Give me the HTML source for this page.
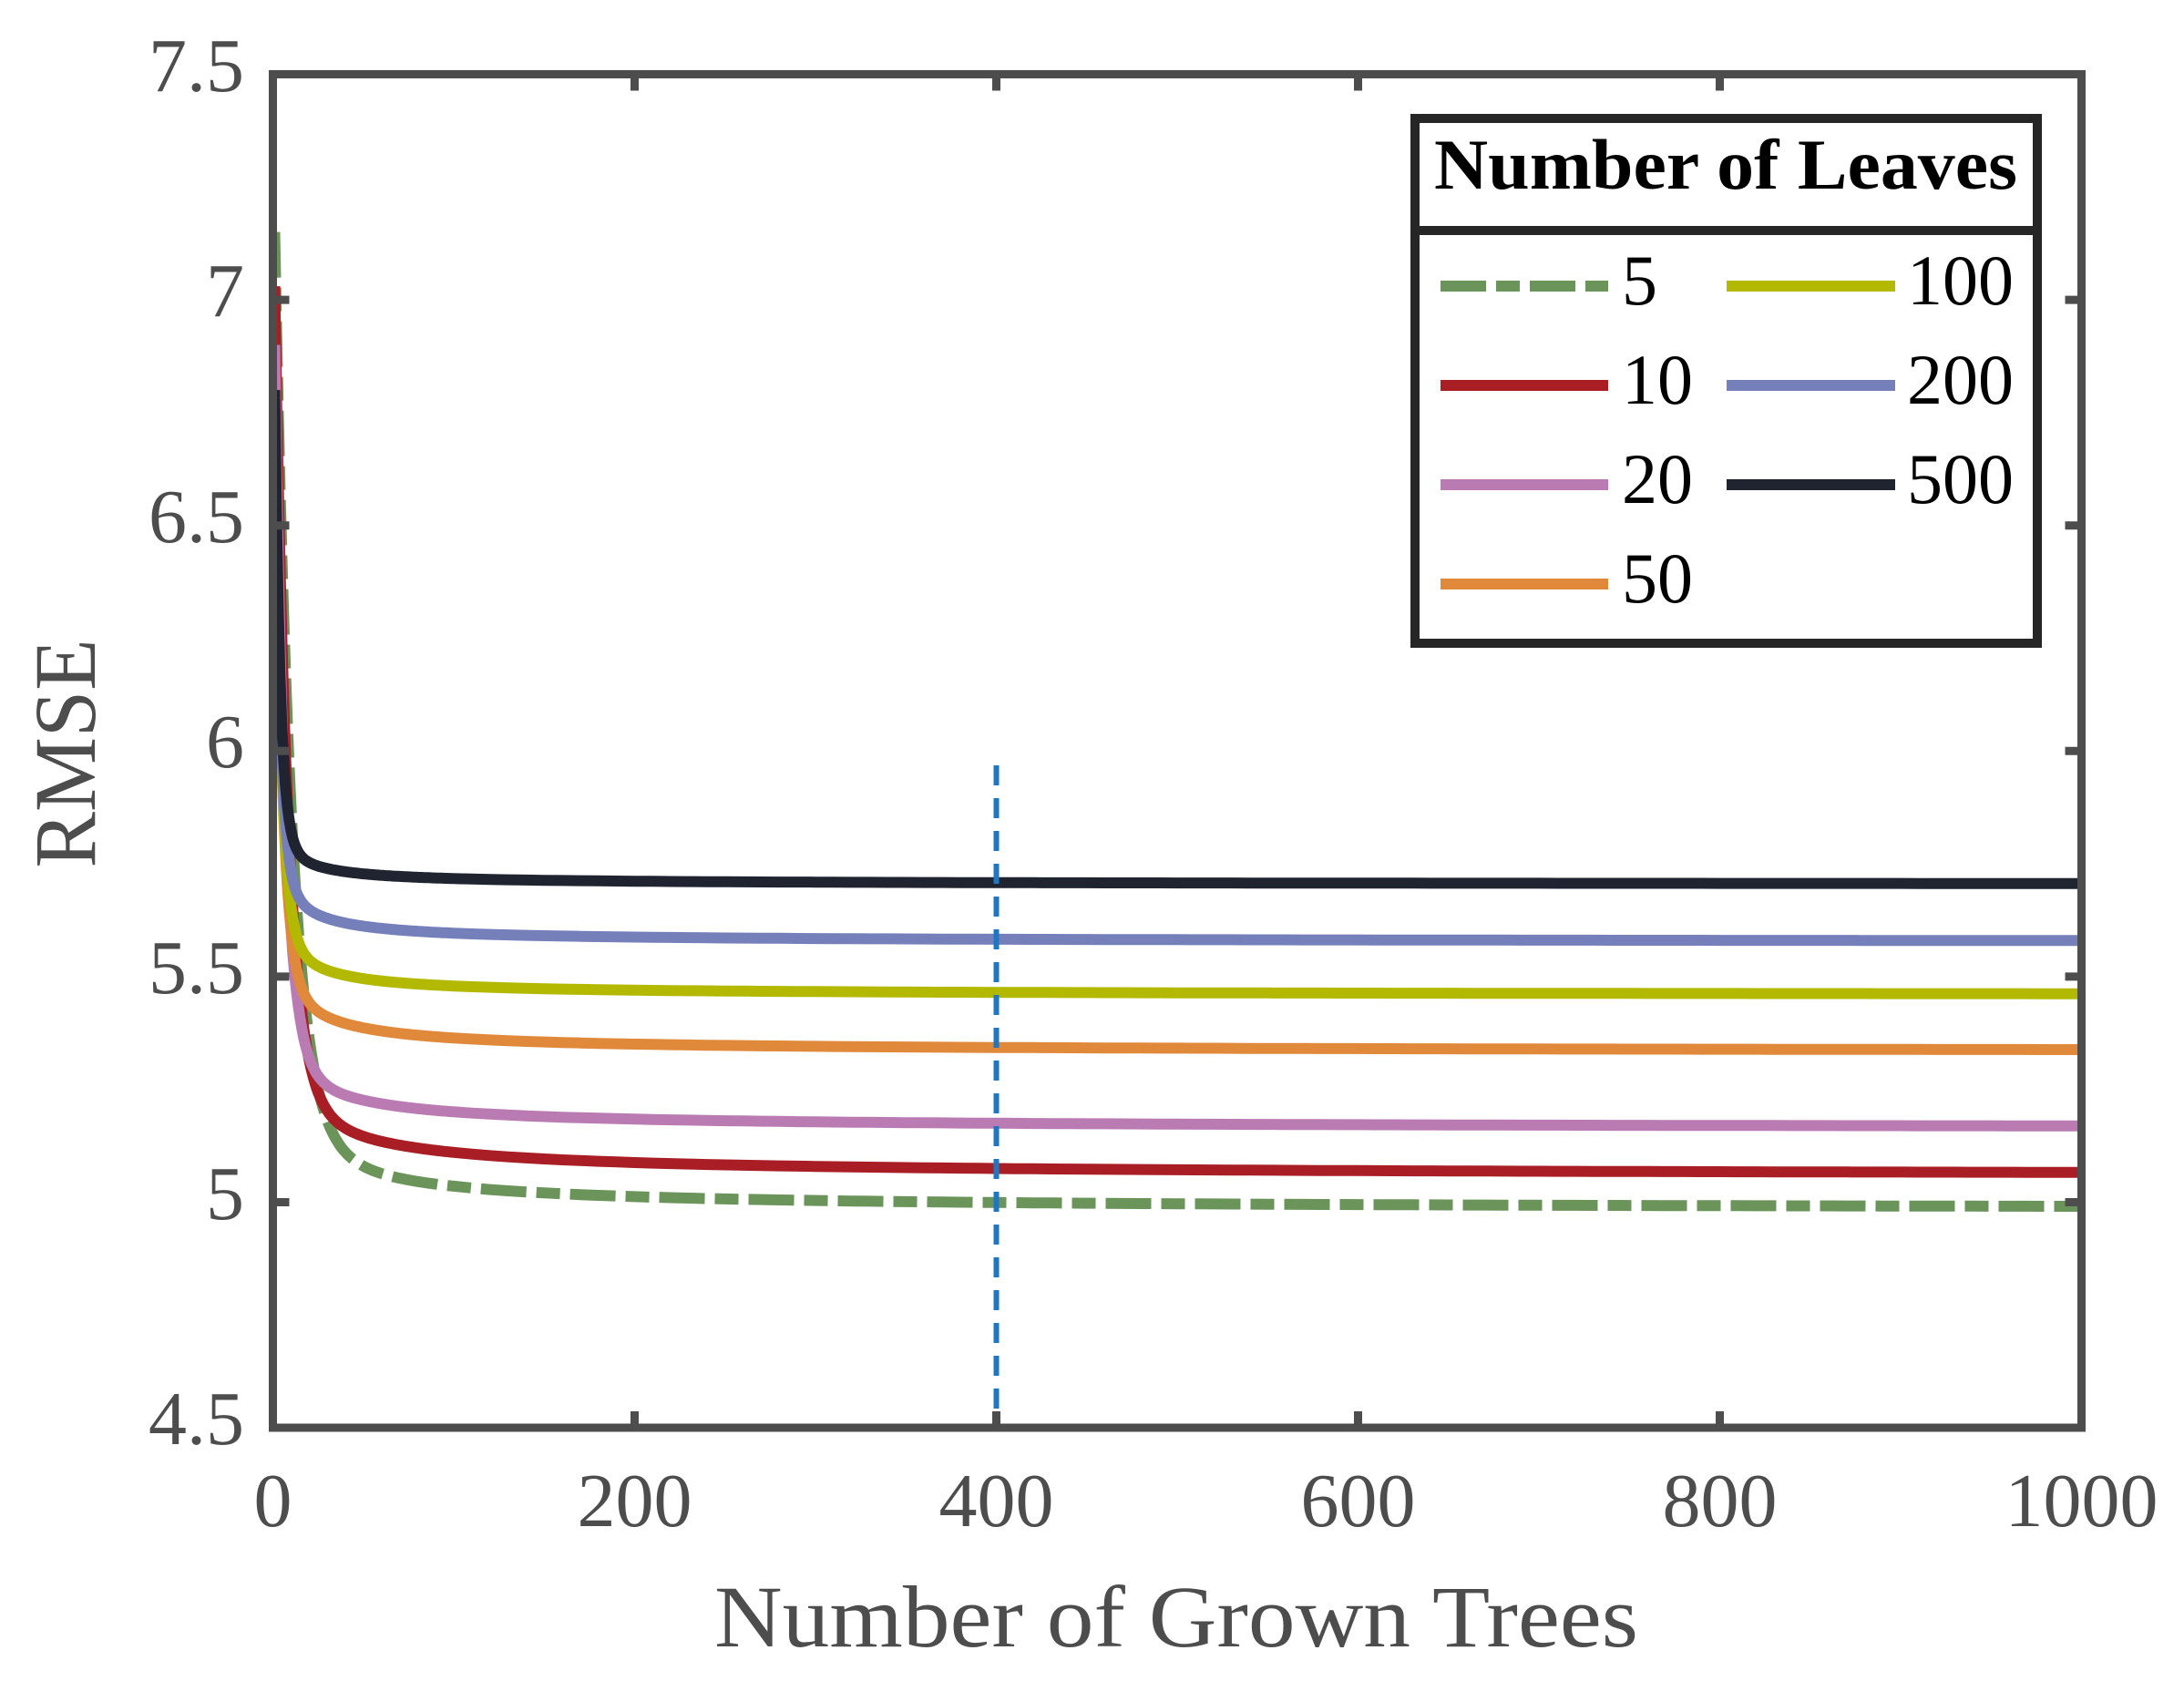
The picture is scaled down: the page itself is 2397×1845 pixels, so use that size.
<!DOCTYPE html>
<html><head><meta charset="utf-8"><style>
html,body{margin:0;padding:0;background:#fff;}
svg{display:block;}
</style></head><body>
<svg id="s" width="2397" height="1845" viewBox="0 0 2397 1845" xmlns="http://www.w3.org/2000/svg">
<rect width="2397" height="1845" fill="#fff"/>
<g id="curves" fill="none" stroke-width="12" stroke-linejoin="round"></g>
<line x1="1093.5" y1="840" x2="1093.5" y2="1567" stroke="#1f77c4" stroke-width="6" stroke-dasharray="22,14"/>
<g stroke="#4d4d4d" stroke-width="9" fill="none">
<rect x="299.5" y="81.5" width="1985" height="1485.5"/>
<path id="ticks" d=""/>
</g>
<g font-family="Liberation Serif, serif" font-size="84" fill="#4d4d4d" text-anchor="end">
<text x="268" y="100">7.5</text>
<text x="268" y="347">7</text>
<text x="268" y="595">6.5</text>
<text x="268" y="842">6</text>
<text x="268" y="1090">5.5</text>
<text x="268" y="1338">5</text>
<text x="268" y="1585">4.5</text>
</g>
<g font-family="Liberation Serif, serif" font-size="84" fill="#4d4d4d" text-anchor="middle">
<text x="299.5" y="1675">0</text>
<text x="696.5" y="1675">200</text>
<text x="1093.5" y="1675">400</text>
<text x="1490.5" y="1675">600</text>
<text x="1887.5" y="1675">800</text>
<text x="2284.5" y="1675">1000</text>
<text x="1291" y="1807" font-size="96" textLength="1014" lengthAdjust="spacingAndGlyphs">Number of Grown Trees</text>
<text transform="translate(104,827) rotate(-90)" x="0" y="0" font-size="96" textLength="251" lengthAdjust="spacingAndGlyphs">RMSE</text>
</g>
<g>
<rect x="1553" y="130" width="683" height="576" fill="#fff" stroke="#262626" stroke-width="10"/>
<line x1="1553" y1="253" x2="2236" y2="253" stroke="#262626" stroke-width="10"/>
<text x="1574" y="207" font-family="Liberation Serif, serif" font-weight="bold" font-size="78" fill="#000" textLength="640" lengthAdjust="spacingAndGlyphs">Number of Leaves</text>
<g stroke-width="12">
<line x1="1581" y1="314" x2="1765" y2="314" stroke="#6a945a" stroke-dasharray="50,11,26,11"/>
<line x1="1581" y1="423" x2="1765" y2="423" stroke="#a91d25"/>
<line x1="1581" y1="532" x2="1765" y2="532" stroke="#b97bb2"/>
<line x1="1581" y1="641" x2="1765" y2="641" stroke="#e0893a"/>
<line x1="1895" y1="314" x2="2080" y2="314" stroke="#b2b900"/>
<line x1="1895" y1="423" x2="2080" y2="423" stroke="#7580bb"/>
<line x1="1895" y1="532" x2="2080" y2="532" stroke="#1f2430"/>
</g>
<g font-family="Liberation Serif, serif" font-size="78" fill="#000">
<text x="1780" y="334">5</text>
<text x="1780" y="443">10</text>
<text x="1780" y="552">20</text>
<text x="1780" y="661">50</text>
<text x="2093" y="334">100</text>
<text x="2093" y="443">200</text>
<text x="2093" y="552">500</text>
</g>
</g>
<script>
(function(){
var X=function(n){return 299.5+n*1.985;};
var Y=function(v){return 81.5+(7.5-v)*495.2;};
var S=[
 {c:"#6a945a",v1:7.15,vf:4.985,B:0.3,k:20,t:9,d:"50,11,26,11"},
 {c:"#a91d25",v1:7.03,vf:5.06,B:0.25,k:25,t:7},
 {c:"#b97bb2",v1:6.9,vf:5.165,B:0.21,k:20,t:5.5},
 {c:"#e0893a",v1:6.8,vf:5.335,B:0.22,k:15,t:4},
 {c:"#b2b900",v1:6.8,vf:5.46,B:0.21,k:10,t:3.5},
 {c:"#7580bb",v1:6.8,vf:5.578,B:0.2,k:10,t:3},
 {c:"#1f2430",v1:6.8,vf:5.705,B:0.135,k:10,t:3}
];
var g=document.getElementById("curves");
S.forEach(function(s){
 var d="";var A=s.v1-s.vf-s.B;
 var ns=[];for(var n=1;n<=100;n+=1)ns.push(n);for(n=110;n<=1000;n+=10)ns.push(n);
 ns.forEach(function(n,i){
  var v=s.vf+A*Math.exp(-(n-1)/s.t)+s.B*s.k/(n+s.k-1);
  d+=(i?"L":"M")+X(n).toFixed(1)+","+Y(v).toFixed(1);
 });
 var p=document.createElementNS("http://www.w3.org/2000/svg","path");
 p.setAttribute("d",d);p.setAttribute("stroke",s.c);
 if(s.d)p.setAttribute("stroke-dasharray",s.d);
 g.appendChild(p);
});
var t="";
for(var i=1;i<5;i++){var x=299.5+i*397;t+="M"+x+",81.5v18M"+x+",1567v-18";}
for(i=1;i<6;i++){var y=81.5+i*247.6;t+="M299.5,"+y+"h18M2284.5,"+y+"h-18";}
document.getElementById("ticks").setAttribute("d",t);
})();
</script>
</svg>
</body></html>
